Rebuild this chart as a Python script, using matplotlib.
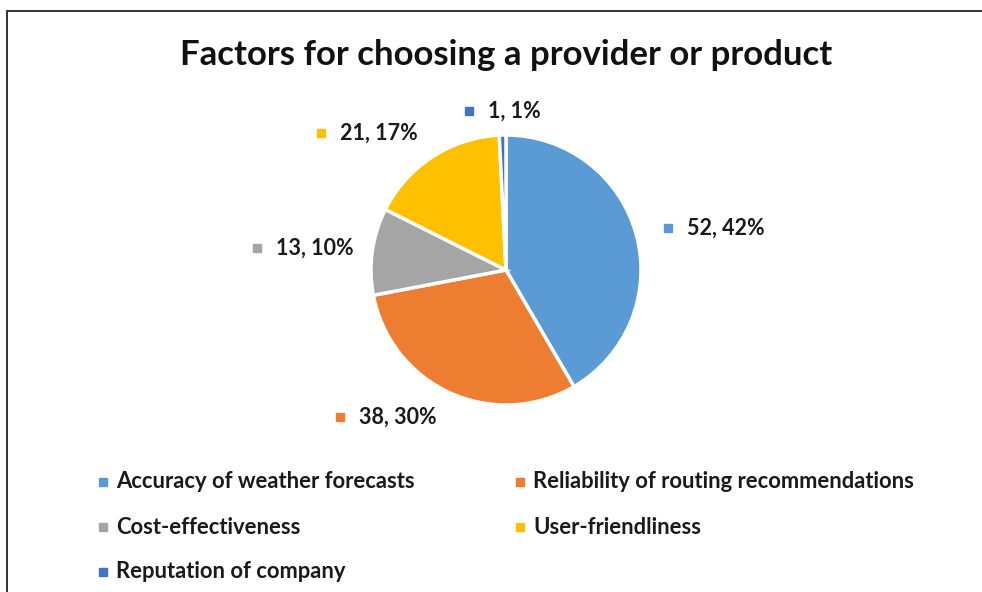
import matplotlib.pyplot as plt

plt.rcParams['font.family'] = ['Lato', 'DejaVu Sans']

categories = [
    "Accuracy of weather forecasts",
    "Reliability of routing recommendations",
    "Cost-effectiveness",
    "User-friendliness",
    "Reputation of company",
]
counts = [52, 38, 13, 21, 1]
colors = ["#5B9BD5", "#ED7D31", "#A5A5A5", "#FFC000", "#4472C4"]

# layout in pixels, measured from the top-left corner
W, H = 982, 592
pie_center = (506, 270)
pie_radius = 135
label_start = [(687, 228), (359, 417), (276, 248), (340, 133), (488, 111)]
legend_rows = [482, 527, 572]
legend_cols = [116, 533]

fig = plt.figure(figsize=(W / 100, H / 100), dpi=100)
ax = fig.add_axes([0, 0, 1, 1])

wedges, _ = ax.pie(counts, colors=colors, startangle=90, counterclock=False,
                   center=(pie_center[0], H - pie_center[1]), radius=pie_radius,
                   wedgeprops=dict(edgecolor='white', linewidth=2.5))
ax.set_xlim(0, W)
ax.set_ylim(0, H)
ax.set_aspect('equal')
ax.axis('off')

# chart frame: only its left and top edges fall inside the image
ax.plot([7, 7, W + 20], [-20, H - 11, H - 11], color="#333333", lw=1.4,
        solid_joinstyle='miter')

ax.text(pie_center[0], H - 55, "Factors for choosing a provider or product",
        ha='center', va='center', fontsize=25, fontweight='bold', color='#111111')

total = sum(counts)
for n, c, (x, y) in zip(counts, colors, label_start):
    pct = round(100 * n / total)
    ax.text(x, H - y, f"{n}, {pct}%", ha='left', va='center',
            fontsize=15.5, fontweight='bold', color='#1a1a1a')
    ax.plot(x - 19, H - y, marker='s', ms=6, color=c, ls='none')

# legend laid out row by row, two entries per row
for i, (name, c) in enumerate(zip(categories, colors)):
    x = legend_cols[i % 2]
    y = legend_rows[i // 2]
    ax.plot(x - 13, H - y, marker='s', ms=6, color=c, ls='none')
    ax.text(x, H - y, name, ha='left', va='center',
            fontsize=15.8, fontweight='bold', color='#1a1a1a')

fig.savefig("out.png", dpi=100)
